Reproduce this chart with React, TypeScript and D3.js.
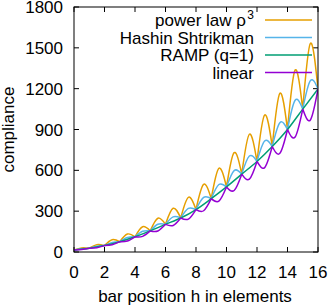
import React from 'react';
import * as d3 from 'd3';

// compliance where all four curves meet (bar positions 0..16)
const nodeValues = [15, 28, 47, 76, 112, 155, 203, 250, 312, 392, 478, 572, 665, 775, 900, 1050, 1198];
// values halfway between the integer positions (h = 0.5 .. 15.5)
const powerLawMid = [30, 54, 90, 132, 186, 248, 321, 402, 497, 615, 730, 865, 1006, 1166, 1337, 1533];
const hashinMid = [24, 42, 70, 107, 152, 204, 258, 320, 401, 496, 598, 705, 815, 950, 1115, 1259];
const linearMid = [18.5, 32, 53, 81, 115, 154, 195, 242, 303, 374, 452, 535, 620, 725, 845, 970];

const xTicks = [0, 2, 4, 6, 8, 10, 12, 14, 16];
const yTicks = [0, 300, 600, 900, 1200, 1500, 1800];

const width = 332;
const height = 307;
const margin = { top: 7, right: 14, bottom: 55, left: 74 };
const font = '"Liberation Sans", Arial, sans-serif';

export default function App() {
  const x = d3.scaleLinear().domain([0, 16]).range([margin.left, width - margin.right]);
  const y = d3.scaleLinear().domain([0, 1800]).range([height - margin.bottom, margin.top]);

  const line = d3.line<[number, number]>()
    .x(d => x(d[0]))
    .y(d => y(d[1]));

  // scalloped curve: one natural spline per interval, cusp at each node
  const scallop = (mids: number[]) =>
    mids.map((m, k) =>
      line.curve(d3.curveNatural)([[k, nodeValues[k]], [k + 0.5, m], [k + 1, nodeValues[k + 1]]]) || ''
    ).join('');

  const rampPath = line.curve(d3.curveMonotoneX)(nodeValues.map((v, i) => [i, v] as [number, number])) || '';

  const series = [
    { name: 'power law ρ', sup: '3', color: '#E69F00', d: scallop(powerLawMid) },
    { name: 'Hashin Shtrikman', sup: '', color: '#56B4E9', d: scallop(hashinMid) },
    { name: 'RAMP (q=1)', sup: '', color: '#009E73', d: rampPath },
    { name: 'linear', sup: '', color: '#9400D3', d: scallop(linearMid) },
  ];

  const x0 = margin.left, x1 = width - margin.right;
  const y0 = height - margin.bottom, y1 = margin.top;
  const tick = 5;

  return (
    <svg width={width} height={height} style={{ position: 'absolute', left: 0, top: 0, background: '#fff' }}
      fontFamily={font} fontSize={17}>
      <defs>
        <clipPath id="plot">
          <rect x={x0} y={y1} width={x1 - x0} height={y0 - y1} />
        </clipPath>
      </defs>

      {/* ticks */}
      {yTicks.map(t => (
        <g key={'y' + t}>
          <line x1={x0} x2={x0 + tick} y1={y(t)} y2={y(t)} stroke="#000" />
          <line x1={x1} x2={x1 - tick} y1={y(t)} y2={y(t)} stroke="#000" />
          <text x={x0 - 11} y={y(t) + 6} textAnchor="end">{t}</text>
        </g>
      ))}
      {xTicks.map(t => (
        <g key={'x' + t}>
          <line x1={x(t)} x2={x(t)} y1={y0} y2={y0 - tick} stroke="#000" />
          <line x1={x(t)} x2={x(t)} y1={y1} y2={y1 + tick} stroke="#000" />
          <text x={x(t)} y={y0 + 26} textAnchor="middle">{t}</text>
        </g>
      ))}

      {/* curves */}
      <g clipPath="url(#plot)" fill="none" strokeWidth={1.5}>
        {series.map(s => (
          <path key={s.name} d={s.d} stroke={s.color} />
        ))}
      </g>

      {/* legend */}
      {series.map((s, i) => {
        const ly = 20 + i * 17.5;
        return (
          <g key={'l' + s.name}>
            <text x={s.sup ? 246 : 254} y={ly + 6} textAnchor="end">{s.name}</text>
            {s.sup && <text x={254} y={ly - 1} textAnchor="end" fontSize={12}>{s.sup}</text>}
            <line x1={265} x2={312} y1={ly} y2={ly} stroke={s.color} strokeWidth={1.5} />
          </g>
        );
      })}

      {/* border */}
      <rect x={x0} y={y1} width={x1 - x0} height={y0 - y1} fill="none" stroke="#000" />

      {/* axis titles */}
      <text x={(x0 + x1) / 2 - 1} y={height - 5} textAnchor="middle">bar position h in elements</text>
      <text transform={`translate(14,${(y0 + y1) / 2}) rotate(-90)`} textAnchor="middle">compliance</text>
    </svg>
  );
}
